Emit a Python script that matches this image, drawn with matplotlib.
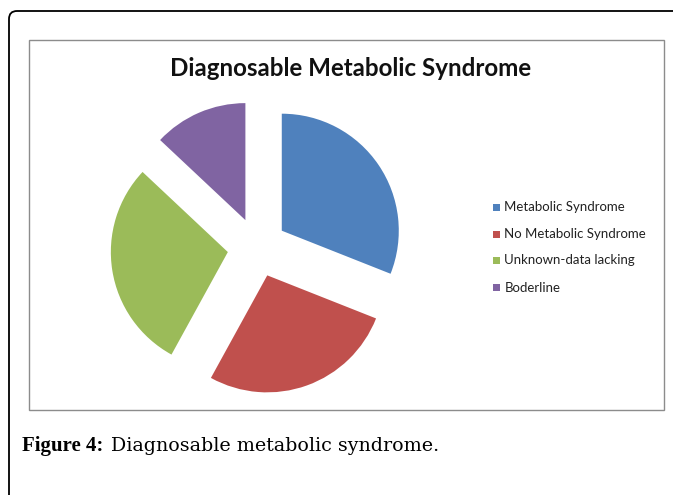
import matplotlib
matplotlib.use("Agg")
import matplotlib.pyplot as plt
from matplotlib.patches import FancyBboxPatch, Rectangle
from matplotlib.transforms import IdentityTransform

categories = ["Metabolic Syndrome", "No Metabolic Syndrome", "Unknown-data lacking", "Boderline"]
values = [31, 27, 29, 13]
colors = ["#4F81BD", "#C0504D", "#9BBB59", "#8064A2"]
title = "Diagnosable Metabolic Syndrome"
caption_bold = "Figure 4:"
caption_text = "Diagnosable metabolic syndrome."

W, H = 673, 495
fig = plt.figure(figsize=(W / 100, H / 100), dpi=100)
fig.patch.set_facecolor("white")
renderer = fig.canvas.get_renderer()


def fx(x):
    return x / W


def fy(y):
    return 1 - y / H


def fit(t, target_w):
    """scale a text's font size so its rendered width is target_w pixels"""
    w = t.get_window_extent(renderer=renderer).width
    t.set_fontsize(t.get_fontsize() * target_w / w)


# outer rounded frame (extends beyond right/bottom)
frame = FancyBboxPatch((9, -40), 720, 495 - 11 + 40, boxstyle="round,pad=0,rounding_size=8",
                       fill=False, edgecolor="black", linewidth=1.3)
frame.set_transform(IdentityTransform())
fig.patches.append(frame)

# inner chart box
box = Rectangle((fx(29.5), fy(410)), fx(664) - fx(29.5), fy(39.5) - fy(410),
                transform=fig.transFigure, fill=False, edgecolor="#8c8c8c", linewidth=1.0)
fig.patches.append(box)

# pie axes
R = 117.0
cx, cy = 257.2, 247.4
half = 150
ax = fig.add_axes([fx(cx - half), fy(cy + half), 2 * half / W, 2 * half / H])
lim = half / R
ax.pie(values, colors=colors, startangle=90, counterclock=False,
       explode=[0.254] * len(values), radius=1.0,
       wedgeprops=dict(linewidth=0))
ax.set_xlim(-lim, lim)
ax.set_ylim(-lim, lim)
ax.set_aspect("equal")
ax.axis("off")

tt = fig.text(fx(350.5), fy(69), title, ha="center", va="center",
              fontsize=14, fontweight="bold", family="Lato", color="#111111")
fit(tt, 363)

# legend
ys = [207.5, 234, 260.5, 287.5]
legend_texts = []
for lab, col, y in zip(categories, colors, ys):
    fig.patches.append(Rectangle((fx(493.5), fy(y + 3.5)), 7 / W, 7 / H, transform=fig.transFigure,
                                 facecolor=col, edgecolor="none"))
    legend_texts.append(fig.text(fx(504.5), fy(y), lab, ha="left", va="center", fontsize=8,
                                 family="Lato", color="#222222"))
w0 = legend_texts[1].get_window_extent(renderer=renderer).width
for t in legend_texts:
    t.set_fontsize(8 * 143 / w0)

# caption
t1 = fig.text(fx(22), fy(446), caption_bold, ha="left", va="center", fontsize=12,
              fontweight="bold", family="Liberation Serif", color="black")
fit(t1, 81)
t2 = fig.text(fx(111), fy(446), caption_text, ha="left", va="center",
              fontsize=13, family="DejaVu Serif", color="black")
fit(t2, 326)

fig.savefig("out.png", dpi=100)
